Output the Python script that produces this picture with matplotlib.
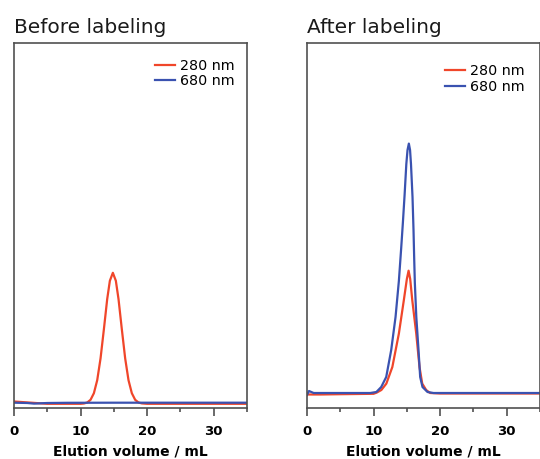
import matplotlib
matplotlib.use("Agg")
import matplotlib.pyplot as plt
from matplotlib.ticker import MultipleLocator

plt.rcParams['font.family'] = ['DejaVu Sans']

# ---- data (absorbance, arbitrary units) ----
titles = ["Before labeling", "After labeling"]
labels = ["280 nm", "680 nm"]
xlabel = "Elution volume / mL"

# Before labeling
before_280_x = [0, 5, 10, 10.5, 11, 11.5, 12, 12.5, 13, 13.5, 14, 14.4, 14.85,
                15.3, 15.7, 16.2, 16.7, 17.2, 17.7, 18.2, 18.7, 19.2, 20, 25, 30, 35]
before_280_y = [1.5, -0.8, -0.8, -0.5, 0.5, 3.2, 9.8, 22.8, 44.6, 73.6, 103.9, 122.2, 130.2,
                122.2, 103.9, 73.6, 44.6, 22.8, 9.8, 3.2, 0.5, -0.4, -0.8, -0.8, -0.8, -0.8]
before_680_x = [0, 2, 3, 4, 5, 8, 15, 25, 35]
before_680_y = [0.3, 0.0, -0.6, -0.3, 0.0, 0.2, 0.3, 0.3, 0.3]

# After labeling
after_280_x = [0, 2, 5, 10, 10.5, 11.17, 11.92, 12.82, 13.8, 14.55, 15.0, 15.26, 15.5,
               15.81, 16.41, 16.9, 17.31, 17.9, 18.5, 20, 25, 30, 35]
after_280_y = [-1.5, -1.5, -1.2, -0.8, 0.5, 3, 9.4, 26, 59.4, 93, 114, 122.3, 114,
               93, 59.4, 26, 9.4, 3, 0, -0.5, -0.5, -0.5, -0.5]
after_680_x = [0, 0.3, 1, 5, 9.5, 10.42, 11.15, 11.9, 12.65, 13.3, 13.8, 14.15, 14.4, 14.66,
               14.92, 15.1, 15.3, 15.48, 15.62, 15.85, 16.0, 16.1, 16.2, 16.42, 16.75,
               17.0, 17.35, 18.1, 19, 25, 30, 35]
after_680_y = [-2, 2, 0, 0, 0, 1, 6, 16, 43, 76, 112, 145, 170, 198,
               229, 243, 249.4, 243, 229, 196, 163, 135, 110, 76, 43,
               16, 6, 1, 0, 0, 0, 0]

panels = [
    (before_280_x, before_280_y, before_680_x, before_680_y, (-5, 360)),
    (after_280_x, after_280_y, after_680_x, after_680_y, (-15, 350)),
]

red = '#f0462a'
blue = '#3a52b0'
spine_c = '#505050'

fig = plt.figure(figsize=(5.4, 4.59), dpi=100)
lefts = [14 / 540, 307 / 540]
legend_anchor = [(0.605, 0.956), (0.592, 0.942)]
legend_spacing = [0.05, 0.1]
for i, (rx, ry, bx, by, ylim) in enumerate(panels):
    ax = fig.add_axes([lefts[i], 51 / 459, 233 / 540, 365 / 459])
    ax.plot(rx, ry, color=red, lw=1.6, label=labels[0])
    ax.plot(bx, by, color=blue, lw=1.6, label=labels[1])
    ax.set_xlim(0, 35)
    ax.set_ylim(*ylim)
    ax.set_yticks([])
    ax.xaxis.set_major_locator(MultipleLocator(10))
    ax.xaxis.set_minor_locator(MultipleLocator(5))
    ax.tick_params(axis='x', which='major', direction='out', length=6, width=1.2,
                   color=spine_c, pad=6, labelsize=9.5)
    ax.tick_params(axis='x', which='minor', direction='out', length=3, width=1.2,
                   color=spine_c)
    for lab in ax.get_xticklabels():
        lab.set_fontweight('bold')
    for s in ax.spines.values():
        s.set_color(spine_c)
        s.set_linewidth(1.2)
    ax.set_xlabel(xlabel, fontsize=10, fontweight='bold', labelpad=5)
    ax.text(0.0, 1.016, titles[i], transform=ax.transAxes, fontsize=14.5,
            ha='left', va='bottom', color='#1a1a1a')
    ax.legend(loc='upper left', bbox_to_anchor=legend_anchor[i], frameon=False,
              fontsize=10.3, handlelength=1.4, handletextpad=0.35,
              labelspacing=legend_spacing[i], borderpad=0, borderaxespad=0)

fig.savefig('out.png', dpi=100)
